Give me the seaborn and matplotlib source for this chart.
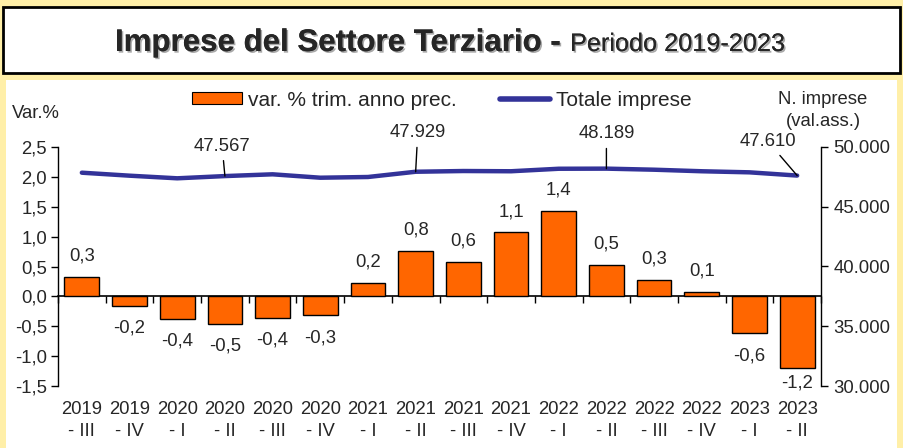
import numpy as np
import pandas as pd
import matplotlib
matplotlib.use("Agg")
import matplotlib.pyplot as plt
import matplotlib.patheffects as pe
from matplotlib.patches import Rectangle, Patch
from matplotlib.lines import Line2D
import seaborn as sns

# ---------------- data ----------------
periods = ["2019\n- III", "2019\n- IV", "2020\n- I", "2020\n- II", "2020\n- III", "2020\n- IV",
           "2021\n- I", "2021\n- II", "2021\n- III", "2021\n- IV", "2022\n- I", "2022\n- II",
           "2022\n- III", "2022\n- IV", "2023\n- I", "2023\n- II"]
var_pct = [0.33, -0.16, -0.38, -0.46, -0.36, -0.32, 0.23, 0.76, 0.58, 1.07, 1.43, 0.53,
           0.27, 0.07, -0.62, -1.20]
totale = [47850, 47600, 47380, 47567, 47715, 47430, 47490, 47929, 47990, 47970, 48180, 48189,
          48100, 47970, 47880, 47610]
labelled_idx = [3, 7, 11, 15]
left_ticks = [-1.5, -1.0, -0.5, 0.0, 0.5, 1.0, 1.5, 2.0, 2.5]
right_ticks = [30000, 35000, 40000, 45000, 50000]

BAR = "#FF6600"
LINE = "#333399"
BG = "#FFEFA8"
FS = 13.3
LFS = 15

sns.set_theme(style="white")
plt.rcParams["font.family"] = ["Liberation Sans", "DejaVu Sans"]

fig = plt.figure(figsize=(9.04, 4.48), dpi=100)
fig.patch.set_facecolor(BG)
W, H = 904, 448

def fx(px):
    return px / W

def fy(py):
    return 1 - py / H

# background boxes
fig.patches.append(Rectangle((fx(3), fy(73)), fx(897), 66 / H, transform=fig.transFigure,
                             facecolor="white", edgecolor="black", linewidth=2, zorder=-10))
fig.patches.append(Rectangle((fx(6), 0), fx(891), fy(80), transform=fig.transFigure,
                             facecolor="white", edgecolor="none", zorder=-10))

# title
shadow = [pe.withSimplePatchShadow(offset=(1.2, -1.2), alpha=0.35), pe.Normal()]
fig.text(fx(561), fy(51), "Imprese del Settore Terziario -", ha="right", va="baseline",
         fontsize=22.5, fontweight="bold", path_effects=shadow)
fig.text(fx(570), fy(51), "Periodo 2019-2023", ha="left", va="baseline", fontsize=18.2,
         path_effects=shadow)

# axes
ax = fig.add_axes([fx(58), fy(386), fx(821) - fx(58), (386 - 147) / H])
ax.set_facecolor("none")
df = pd.DataFrame({"period": periods, "var": var_pct})
sns.barplot(data=df, x="period", y="var", order=periods, color=BAR, saturation=1,
            edgecolor="black", linewidth=1, width=0.73, ax=ax)
ax.set_ylim(-1.5, 2.5)
ax.set_xlim(-0.5, len(periods) - 0.5)
ax.set_yticks(left_ticks)
ax.set_yticklabels([f"{t:.1f}".replace(".", ",") for t in left_ticks], fontsize=FS)
ax.set_xticks(range(len(periods)))
ax.set_xticklabels(periods, fontsize=FS, linespacing=1.35)
ax.tick_params(axis="x", length=0, pad=11)
ax.tick_params(axis="y", direction="out", length=5, width=1, color="black", left=True, pad=3)
ax.set_xlabel("")
ax.set_ylabel("")
for s in ["top", "right", "bottom"]:
    ax.spines[s].set_visible(False)
ax.spines["left"].set_color("black")
ax.spines["left"].set_linewidth(1)

# zero axis with boundary ticks
sec = ax.secondary_xaxis(0.375)
sec.set_xticks(np.arange(-0.5, len(periods) - 0.4, 1.0))
sec.set_xticklabels([])
sec.tick_params(direction="out", length=5, width=1, color="black")
sec.spines["bottom"].set_color("black")
sec.spines["bottom"].set_linewidth(1.2)

# bar labels
for i, v in enumerate(var_pct):
    txt = f"{v:.1f}".replace(".", ",")
    off = 15 if v >= 0 else -16
    if i == len(var_pct) - 1:
        off = -11
    ax.annotate(txt, (i, v), xytext=(0, off), textcoords="offset points",
                ha="center", va="center", fontsize=FS)

# line on twin axis
ax2 = ax.twinx()
sns.lineplot(x=np.arange(len(periods)), y=totale, color=LINE, linewidth=3.2, ax=ax2,
             solid_capstyle="round")
ax2.set_ylim(30000, 50000)
ax2.set_yticks(right_ticks)
ax2.set_yticklabels([f"{t:,}".replace(",", ".") for t in right_ticks], fontsize=FS)
ax2.tick_params(axis="y", direction="out", length=5, width=1, color="black", right=True, pad=4)
for s in ["top", "left", "bottom"]:
    ax2.spines[s].set_visible(False)
ax2.spines["right"].set_color("black")
ax2.spines["right"].set_linewidth(1)
ax2.set_ylabel("")

offsets = {3: (-2, 21.6), 7: (1.5, 28), 11: (0, 25), 15: (-21, 24.5)}
for i in labelled_idx:
    txt = f"{totale[i]:,}".replace(",", ".")
    ax2.annotate(txt, (i, totale[i]), xytext=offsets[i], textcoords="offset points",
                 ha="center", va="center", fontsize=FS,
                 arrowprops=dict(arrowstyle="-", color="black", lw=1, shrinkA=2, shrinkB=0))

# axis titles
fig.text(fx(12), fy(114), "Var.%", ha="left", va="center", fontsize=FS)
fig.text(fx(823), fy(100), "N. imprese", ha="center", va="center", fontsize=FS)
fig.text(fx(823), fy(121), "(val.ass.)", ha="center", va="center", fontsize=FS)

# legend
handles = [Patch(facecolor=BAR, edgecolor="black", linewidth=0.8),
           Line2D([0], [0], color=LINE, linewidth=4)]
fig.legend(handles, ["var. % trim. anno prec.", "Totale imprese"], ncol=2,
           loc="center left", bbox_to_anchor=(fx(192), fy(100)), frameon=False,
           fontsize=LFS, borderpad=0, borderaxespad=0, handlelength=2.4, handleheight=0.5,
           handletextpad=0.3, columnspacing=2.05)

fig.savefig("out.png", dpi=100, facecolor=BG)
